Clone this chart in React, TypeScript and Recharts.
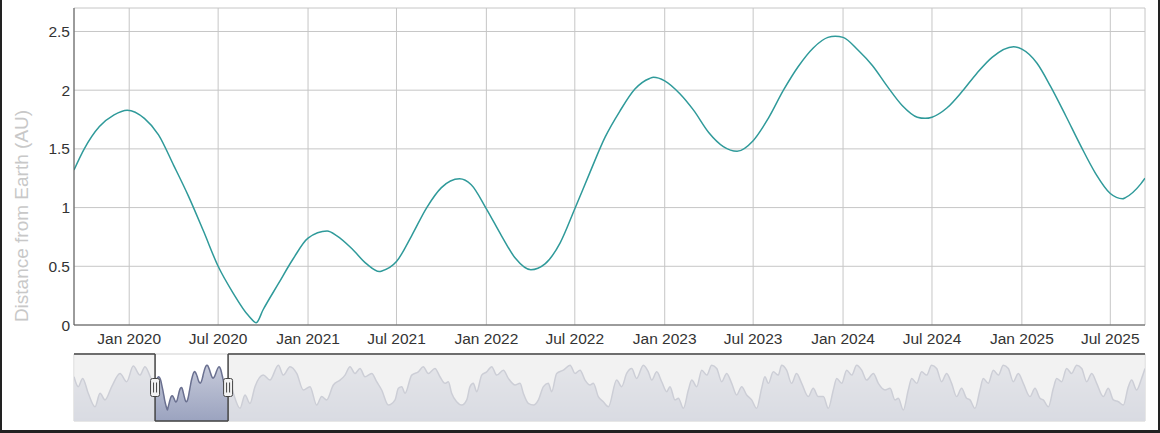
import {
  Area,
  AreaChart,
  CartesianGrid,
  Line,
  LineChart,
  ReferenceArea,
  ReferenceDot,
  ReferenceLine,
  XAxis,
  YAxis,
} from 'recharts';

// main view: distance from Earth (monthly + turning points)
const mainDates = [
  '2019-09-10', '2019-10-01', '2019-11-01', '2019-12-01', '2019-12-28', '2020-02-01',
  '2020-03-01', '2020-04-01', '2020-05-01', '2020-06-01', '2020-07-01', '2020-08-01',
  '2020-09-01', '2020-09-17', '2020-10-01', '2020-11-01', '2020-12-01', '2021-01-01',
  '2021-02-09', '2021-03-01', '2021-04-01', '2021-05-01', '2021-05-27',
  '2021-06-01', '2021-07-01', '2021-08-01', '2021-09-01', '2021-10-01', '2021-11-07',
  '2021-12-01', '2022-01-01', '2022-02-01', '2022-03-01', '2022-04-02', '2022-05-01',
  '2022-06-01', '2022-07-01', '2022-08-01', '2022-09-01', '2022-10-01', '2022-11-01',
  '2022-12-01', '2022-12-09', '2023-01-01', '2023-02-01', '2023-03-01', '2023-04-01',
  '2023-05-01', '2023-05-29', '2023-07-01', '2023-08-01', '2023-09-01', '2023-10-01',
  '2023-11-01', '2023-12-01', '2023-12-16', '2024-01-01', '2024-02-01', '2024-03-01',
  '2024-04-01', '2024-05-01', '2024-06-01', '2024-06-17', '2024-07-01', '2024-08-01',
  '2024-09-01', '2024-10-01', '2024-11-01', '2024-12-15', '2025-01-01', '2025-02-01',
  '2025-03-01', '2025-04-01', '2025-05-01', '2025-06-01', '2025-07-01', '2025-07-26',
  '2025-08-01', '2025-09-01', '2025-09-10',
];
const mainDist = [
  1.32, 1.5, 1.69, 1.79, 1.83, 1.76,
  1.62, 1.36, 1.1, 0.8, 0.5, 0.27,
  0.08, 0.02, 0.13, 0.35, 0.56, 0.74,
  0.8, 0.76, 0.65, 0.52, 0.455,
  0.46, 0.54, 0.76, 1.0, 1.17, 1.245,
  1.195, 0.99, 0.76, 0.57, 0.47, 0.52,
  0.7, 0.99, 1.3, 1.6, 1.82, 2.01,
  2.1, 2.11, 2.08, 1.97, 1.83, 1.64,
  1.52, 1.48, 1.57, 1.76, 2.0, 2.2,
  2.36, 2.45, 2.46, 2.45, 2.34, 2.21,
  2.03, 1.87, 1.77, 1.76, 1.77, 1.85,
  1.99, 2.145, 2.28, 2.37, 2.35, 2.23,
  2.03, 1.78, 1.53, 1.29, 1.12, 1.075,
  1.085, 1.2, 1.25,
];

const viewStart = '2019-09-10';
const viewEnd = '2025-09-10';

const tickDates = [
  '2020-01-01', '2020-07-01', '2021-01-01', '2021-07-01', '2022-01-01', '2022-07-01',
  '2023-01-01', '2023-07-01', '2024-01-01', '2024-07-01', '2025-01-01', '2025-07-01',
];
const tickLabels = [
  'Jan 2020', 'Jul 2020', 'Jan 2021', 'Jul 2021', 'Jan 2022', 'Jul 2022',
  'Jan 2023', 'Jul 2023', 'Jan 2024', 'Jul 2024', 'Jan 2025', 'Jul 2025',
];
const distTicks = [0, 0.5, 1, 1.5, 2, 2.5];

// navigator: the whole series (decimal years)
const navEarlyYears = [
  2013.03, 2013.38, 2013.74, 2014.2, 2014.76, 2015.17, 2015.58, 2016.13, 2016.81, 2017.36,
  2017.9, 2018.45, 2018.86, 2019.41,
];
const navEarlyDist = [1.83, 1.29, 1.74, 0.93, 0.2, 0.93, 0.57, 1.29, 2.01, 1.56, 2.41, 1.92, 2.38, 1.65];

const navLateYears = [
  2025.9, 2026.12, 2026.67, 2027.08, 2027.49, 2027.9, 2028.58, 2029.13, 2029.82, 2030.23,
  2030.78, 2031.33, 2031.87, 2032.42, 2032.97,
  2033.38, 2033.79, 2034.34, 2034.89, 2035.3, 2035.71, 2036.12, 2036.53, 2036.94, 2037.49,
  2037.9, 2038.31, 2038.86,
  2039.41, 2039.68, 2039.96, 2040.23, 2040.78, 2041.32, 2041.73, 2042.14, 2042.69, 2043.1,
  2043.51, 2043.79, 2044.06, 2044.47, 2044.89,
  2045.3, 2045.57, 2045.84, 2046.12, 2046.53, 2046.94, 2047.35, 2047.76, 2048.31, 2048.72,
  2049.27, 2049.68, 2049.95, 2050.36, 2050.78,
  2051.19, 2051.6, 2052.0, 2052.28, 2052.69, 2053.24, 2053.79, 2054.2, 2054.61, 2055.02,
  2055.43, 2055.7, 2056.11, 2056.52, 2056.94,
  2057.62, 2058.03, 2058.44, 2058.85, 2059.26, 2059.81, 2060.22, 2060.5, 2060.91, 2061.32,
  2061.73, 2062.0, 2062.41, 2062.69, 2063.1,
  2063.51, 2063.79, 2064.2, 2064.61, 2065.02, 2065.43, 2065.84, 2066.25, 2066.66, 2067.07,
  2067.48, 2067.89, 2068.3, 2068.71, 2069.12,
  2069.53, 2069.8, 2070.08, 2070.49, 2070.9, 2071.17, 2071.58, 2071.99, 2072.4, 2072.82,
  2073.36, 2073.77, 2074.18, 2074.6, 2075.01,
  2075.42, 2075.7, 2076.11, 2076.52, 2076.93, 2077.34, 2077.75, 2078.16, 2078.71, 2079.12,
  2079.67, 2080.08, 2080.49, 2080.76, 2081.17,
  2081.58, 2081.86, 2082.27, 2082.68, 2083.09, 2083.5, 2083.91, 2084.32, 2084.73, 2085.14,
  2085.55, 2085.96, 2086.37, 2086.65, 2087.06,
  2087.47, 2087.74, 2088.15, 2088.57, 2088.98, 2089.39, 2089.8, 2090.21, 2090.62, 2091.03,
  2091.58, 2091.99, 2092.4, 2092.67, 2093.09,
  2093.5, 2093.77, 2094.18, 2094.59, 2095.0, 2095.42, 2095.83, 2096.24, 2096.65, 2097.06,
  2097.6, 2098.01, 2098.43, 2098.84, 2099.25,
  2099.66, 2099.93, 2100.34, 2100.75, 2101.03,
];
const navLateDist = [
  1.4, 0.93, 0.11, 0.84, 0.38, 1.29, 1.92, 1.65, 2.46, 1.92,
  2.38, 2.01, 1.11, 1.29, 0.29,
  0.75, 0.57, 1.38, 1.65, 1.92, 2.38, 2.01, 2.28, 1.83, 2.01,
  1.56, 1.11, 0.29,
  0.57, 1.2, 1.29, 0.93, 1.92, 2.1, 2.38, 2.01, 2.28, 1.83,
  1.47, 1.56, 0.93, 0.47, 0.29,
  0.57, 1.29, 1.47, 1.02, 1.92, 2.1, 2.38, 1.92, 2.19, 1.74,
  1.38, 1.47, 0.93, 0.38, 0.29,
  0.57, 1.29, 1.47, 1.02, 2.01, 2.19, 2.46, 2.01, 2.19, 1.65,
  1.38, 1.47, 0.75, 0.47, 0.2,
  1.65, 1.29, 2.01, 2.28, 1.74, 2.46, 2.1, 1.65, 2.1, 1.56,
  1.02, 1.29, 0.57, 0.66, 0.11,
  1.11, 1.65, 1.29, 2.19, 1.92, 2.46, 2.28, 1.56, 2.01, 1.47,
  0.84, 1.29, 0.84, 0.57, 0.11,
  1.2, 1.83, 1.47, 2.1, 1.92, 2.46, 2.19, 1.47, 2.01, 1.47,
  0.75, 1.2, 0.75, 0.75, 0.11,
  1.11, 1.74, 1.47, 2.19, 1.92, 2.46, 2.19, 1.65, 2.01, 1.47,
  1.11, 1.2, 0.57, 0.66, 0.02,
  1.11, 1.74, 1.47, 2.1, 1.92, 2.46, 2.28, 1.56, 2.01, 1.47,
  0.75, 1.2, 0.66, 0.57, 0.11,
  1.11, 1.74, 1.47, 2.19, 1.92, 2.46, 2.28, 1.56, 2.01, 1.47,
  0.75, 1.2, 0.66, 0.57, 0.2,
  1.2, 1.74, 1.56, 2.28, 2.01, 2.46, 2.28, 1.56, 2.01, 1.47,
  0.75, 1.2, 0.57, 0.47, 0.29,
  1.29, 1.65, 1.11, 1.74, 2.28,
];
const navDistDomain = [-0.58, 3.07];

const toYear = (t: number) => {
  const y = new Date(t).getUTCFullYear();
  const a = Date.UTC(y, 0, 1);
  const b = Date.UTC(y + 1, 0, 1);
  return y + (t - a) / (b - a);
};

const mainRows = mainDates.map((d, i) => ({ t: Date.parse(d), dist: mainDist[i] }));
const tickTimes = tickDates.map((d) => Date.parse(d));
const formatTick = (v: number) => tickLabels[tickTimes.indexOf(v)] ?? '';

const navRows = [
  ...navEarlyYears.map((y, i) => ({ year: y, dist: navEarlyDist[i] })),
  ...mainRows.map((r) => ({ year: toYear(r.t), dist: r.dist })),
  ...navLateYears.map((y, i) => ({ year: y, dist: navLateDist[i] })),
];
const navStart = navEarlyYears[0];
const navEnd = navLateYears[navLateYears.length - 1];
const selStart = toYear(Date.parse(viewStart));
const selEnd = toYear(Date.parse(viewEnd));
const navTop = navDistDomain[1];
const navBottom = navDistDomain[0];
const navMid = (navTop + navBottom) / 2;

const Handle = (props: { cx?: number; cy?: number }) => {
  const cx = props.cx ?? 0;
  const cy = props.cy ?? 0;
  return (
    <g>
      <rect x={cx - 4.5} y={cy - 9} width={9} height={18} rx={2} fill="#f2f2f2" stroke="#444" strokeWidth={1} />
      <line x1={cx - 1.5} y1={cy - 5} x2={cx - 1.5} y2={cy + 5} stroke="#444" strokeWidth={1} />
      <line x1={cx + 1.5} y1={cy - 5} x2={cx + 1.5} y2={cy + 5} stroke="#444" strokeWidth={1} />
    </g>
  );
};

const outline = '#444';

export default function App() {
  return (
    <div
      style={{
        position: 'absolute',
        left: 0,
        top: 0,
        width: 1160,
        height: 433,
        background: '#fff',
        fontFamily: '"Liberation Sans", Arial, sans-serif',
      }}
    >
      <div style={{ position: 'absolute', left: 0, top: 0 }}>
        <LineChart width={1160} height={350} data={mainRows} margin={{ top: 8, right: 15, bottom: 0, left: 0 }}>
          <CartesianGrid stroke="#c6c6c6" />
          <XAxis
            dataKey="t"
            type="number"
            domain={[Date.parse(viewStart), Date.parse(viewEnd)]}
            allowDataOverflow
            ticks={tickTimes}
            tickFormatter={formatTick}
            interval={0}
            height={25}
            tickSize={0}
            tickMargin={8}
            axisLine={{ stroke: '#555' }}
            tick={{ fontSize: 15.5, fill: '#333' }}
          />
          <YAxis
            type="number"
            domain={[0, 2.7]}
            ticks={distTicks}
            allowDataOverflow
            width={74}
            tickSize={0}
            tickMargin={4}
            axisLine={{ stroke: '#555' }}
            tick={{ fontSize: 15.5, fill: '#333' }}
          />
          <Line
            dataKey="dist"
            type="monotone"
            stroke="#2f9a9a"
            strokeWidth={1.5}
            dot={false}
            isAnimationActive={false}
          />
        </LineChart>
      </div>

      <div
        style={{
          position: 'absolute',
          left: 22,
          top: 216,
          transform: 'translate(-50%, -50%) rotate(-90deg)',
          whiteSpace: 'nowrap',
          fontSize: 19,
          color: '#c8c8c8',
        }}
      >
        Distance from Earth (AU)
      </div>

      <div style={{ position: 'absolute', left: 0, top: 350 }}>
        <AreaChart width={1160} height={75} data={navRows} margin={{ top: 4, right: 15, bottom: 4, left: 74 }}>
          <defs>
            <linearGradient id="navFill" x1="0" y1="0" x2="0" y2="1">
              <stop offset="0%" stopColor="#c6cada" />
              <stop offset="100%" stopColor="#9ba3bf" />
            </linearGradient>
          </defs>
          <XAxis dataKey="year" type="number" domain={[navStart, navEnd]} allowDataOverflow hide />
          <YAxis type="number" domain={navDistDomain} allowDataOverflow hide />
          <ReferenceArea x1={navStart} x2={navEnd} y1={navBottom} y2={navTop} fill="none" stroke="#cfcfcf" ifOverflow="visible" />
          <Area
            dataKey="dist"
            type="monotone"
            stroke="#6a7090"
            strokeWidth={1.5}
            fill="url(#navFill)"
            fillOpacity={1}
            baseValue={navBottom}
            isAnimationActive={false}
          />
          <ReferenceArea x1={navStart} x2={selStart} y1={navBottom} y2={navTop} fill="#eeeeee" fillOpacity={0.75} stroke="none" ifOverflow="visible" />
          <ReferenceArea x1={selEnd} x2={navEnd} y1={navBottom} y2={navTop} fill="#eeeeee" fillOpacity={0.75} stroke="none" ifOverflow="visible" />
          <ReferenceLine segment={[{ x: navStart, y: navTop }, { x: selStart, y: navTop }]} stroke={outline} strokeWidth={1.5} ifOverflow="visible" />
          <ReferenceLine segment={[{ x: selStart, y: navTop }, { x: selStart, y: navBottom }]} stroke={outline} strokeWidth={1.5} ifOverflow="visible" />
          <ReferenceLine segment={[{ x: selStart, y: navBottom }, { x: selEnd, y: navBottom }]} stroke={outline} strokeWidth={1.5} ifOverflow="visible" />
          <ReferenceLine segment={[{ x: selEnd, y: navBottom }, { x: selEnd, y: navTop }]} stroke={outline} strokeWidth={1.5} ifOverflow="visible" />
          <ReferenceLine segment={[{ x: selEnd, y: navTop }, { x: navEnd, y: navTop }]} stroke={outline} strokeWidth={1.5} ifOverflow="visible" />
          <ReferenceDot x={selStart} y={navMid} shape={Handle} ifOverflow="visible" />
          <ReferenceDot x={selEnd} y={navMid} shape={Handle} ifOverflow="visible" />
        </AreaChart>
      </div>

      <div
        style={{
          position: 'absolute',
          left: 0,
          top: 0,
          width: 1160,
          height: 433,
          boxSizing: 'border-box',
          borderLeft: '2px solid #222',
          borderRight: '2px solid #222',
          borderBottom: '3px solid #222',
          pointerEvents: 'none',
        }}
      />
    </div>
  );
}
